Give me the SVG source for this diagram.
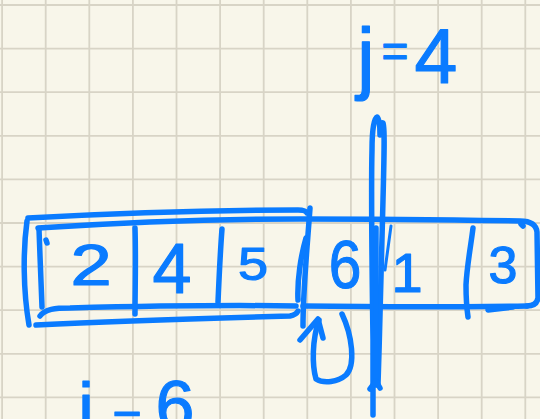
<svg xmlns="http://www.w3.org/2000/svg" width="540" height="419" viewBox="0 0 540 419">
<style>
.bg{fill:#f8f6ea}
.grid{stroke:#d8d4c6;stroke-width:1.8;fill:none}
.ink{stroke:#0a7bff;stroke-width:5.5;fill:none;stroke-linecap:round;stroke-linejoin:round}
.thin{stroke:#0a7bff;stroke-width:3;fill:none;stroke-linecap:round}
.hand{fill:#0a7bff;stroke:#0a7bff;stroke-width:1.2;stroke-linejoin:round;font-family:"Liberation Sans","Noto Sans",sans-serif;text-anchor:middle}
</style>
<rect class="bg" x="0" y="0" width="540" height="419"/>
<g id="grid">
<path class="grid" d="M2.1,0V419M45.7,0V419M89.3,0V419M132.9,0V419M176.5,0V419M220.1,0V419M263.7,0V419M307.3,0V419M350.9,0V419M394.5,0V419M438.1,0V419M481.7,0V419M525.3,0V419M0,5H540M0,48.6H540M0,92.2H540M0,135.8H540M0,179.4H540M0,223H540M0,266.6H540M0,310.2H540M0,353.8H540M0,397.4H540"/>
</g>
<g id="array-outline">
<path class="ink" d="M38,228 C100,224 200,219 300,219 C380,219 460,220 520,221 C530,221 536,224 537,232 L538,298 C537,304 533,306 527,306"/>
<path class="ink" d="M40,316 C45,309 55,308 70,308 C150,306 230,305 296,306"/>
<path class="ink" d="M303,306 C380,307 460,307 527,306"/>
<path class="ink" stroke-width="8" d="M488,310 L513,307"/>
<path class="ink" d="M39,229 C40,255 41,285 42,307"/>
<path class="ink" stroke-width="4" d="M46,240 L47,243"/>
<path class="ink" stroke-width="4" d="M521,224 L523,226"/>
</g>
<g id="cell-0"><path class="ink" d="M135,228 C136,260 135,290 135,314"/><text class="hand" x="91" y="285" font-size="57" transform="translate(91,0) scale(1.3,1) translate(-91,0)">2</text></g>
<g id="cell-1"><path class="ink" d="M222,229 C220,255 219,280 218,302"/><text class="hand" x="172" y="293" font-size="70">4</text></g>
<g id="cell-2"><text class="hand" x="253" y="280" font-size="47" transform="translate(253,0) scale(1.15,1) translate(-253,0)">5</text></g>
<g id="cell-3"><path class="ink" d="M310,208 C307,250 303,290 303,326"/><path class="ink" d="M298,300 C297,280 301,255 306,238"/><text class="hand" x="345" y="288" font-size="69" transform="translate(345,0) scale(0.85,1) translate(-345,0)">6</text></g>
<g id="cell-4"><text class="hand" x="407" y="292" font-size="56">1</text></g>
<g id="cell-5"><path class="ink" d="M473,228 C471,245 467,265 466,285 C466,300 467,310 468,317"/><text class="hand" x="503" y="283" font-size="52">3</text></g>
<g id="bracket">
<path class="ink" d="M28,218 C100,214 200,210 298,210 C302,210 306,211 307,213"/>
<path class="ink" d="M27,221 C23,250 23,290 29,325"/>
<path class="ink" d="M36,325 C120,321 220,318 290,316 C295,315 297,313 298,311"/>
</g>
<g id="pointer-j">
<path class="ink" d="M373,415 L373,340 C372,270 371,190 372,150 C372,130 374,118 377,117 C379,117 380,125 380,135 C380,128 381,122 383,123 C385,126 384,160 383,200 C382,250 380,320 378,385"/>
<path class="ink" stroke-width="6" d="M376,228 L376,385"/>
<path class="ink" stroke-width="4" d="M370,389 L376,381 L380,388"/>
<path class="thin" d="M391,226 L385,270"/>
<text class="hand" font-size="80" x="0" y="0"><tspan x="366" y="84">j</tspan><tspan x="395" y="67" font-size="46">=</tspan><tspan x="436" y="83" font-size="77">4</tspan></text>
</g>
<g id="connectors">
<path class="ink" d="M342,314 C352,335 356,365 346,375 C338,382 324,384 316,379 C312,365 312,340 319,320"/>
<path class="ink" d="M300,340 L318,319 L323,338"/>
</g>
<g id="label-i">
<text class="hand" font-size="70"><tspan x="86" y="432">i</tspan><tspan x="127" y="436" font-size="50">=</tspan><tspan x="175" y="430">6</tspan></text>
</g>
</svg>
